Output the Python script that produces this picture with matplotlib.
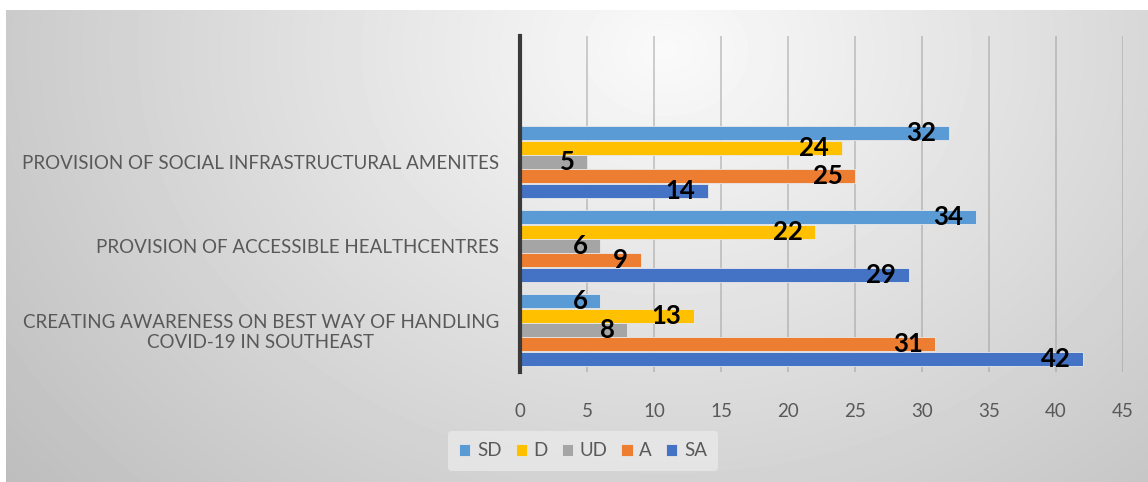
import numpy as np
import matplotlib.pyplot as plt

plt.rcParams['font.family'] = ['Lato', 'DejaVu Sans']

# categories from bottom to top
categories = [
    "CREATING AWARENESS ON BEST WAY OF HANDLING\nCOVID-19 IN SOUTHEAST",
    "PROVISION OF ACCESSIBLE HEALTHCENTRES",
    "PROVISION OF SOCIAL INFRASTRUCTURAL AMENITES",
]
series = ["SD", "D", "UD", "A", "SA"]
sd = [6, 34, 32]
d = [13, 22, 24]
ud = [8, 6, 5]
a = [31, 9, 25]
sa = [42, 29, 14]
colors = ["#5B9BD5", "#FFC000", "#A5A5A5", "#ED7D31", "#4472C4"]

fig = plt.figure(figsize=(11.48, 4.82), dpi=100, facecolor="white")

# grey radial backdrop
bg = fig.add_axes([6 / 1148, 0, 1 - 6 / 1148, 1 - 10 / 482])
bg.set_axis_off()
H, W = 472, 1142
yy, xx = np.mgrid[0:H, 0:W]
dist = np.sqrt(((xx - 660) / 1.0) ** 2 + ((yy - 40) / 0.8) ** 2)
shade = np.clip(0.98 - dist * 0.00028, 0, 1)
bg.imshow(shade, cmap="gray", vmin=0, vmax=1, aspect="auto", interpolation="bilinear")

ax = fig.add_axes([520 / 1148, 1 - 372 / 482, 603 / 1148, 336 / 482])
ax.set_facecolor("none")

y = np.arange(len(categories))
h = 0.172
values = [sd, d, ud, a, sa]
for i, (name, vals, col) in enumerate(zip(series, values, colors)):
    pos = y + (2 - i) * h
    ax.barh(pos, vals, height=h * 0.97, color=col, label=name,
            edgecolor="#E8E8E8", linewidth=0.6, zorder=3)
    for p, v in zip(pos, vals):
        ax.annotate(str(v), xy=(v, p), xytext=(-9, 0), textcoords="offset points",
                    ha="right", va="center", fontsize=18.5, fontweight="bold",
                    color="black", zorder=4)

ax.set_xlim(0, 45)
ax.set_ylim(-0.5, 3.5)
ax.set_xticks(np.arange(0, 46, 5))
ax.set_yticks(y)
ax.set_yticklabels(categories, multialignment="center")
ax.tick_params(axis="both", length=0, labelsize=13.5, colors="#595959")
ax.tick_params(axis="y", pad=15)
ax.tick_params(axis="x", pad=22)
ax.grid(axis="x", color="#999999", alpha=0.55, linewidth=1.2, zorder=0)
for s in ["top", "right", "bottom"]:
    ax.spines[s].set_visible(False)
ax.spines["left"].set_color("#3A3A3A")
ax.spines["left"].set_linewidth(3)
ax.spines["left"].set_zorder(5)

leg = fig.legend(loc="center", bbox_to_anchor=(583 / 1148, 1 - 451 / 482), ncol=5,
                 frameon=True, fontsize=13.5, handlelength=0.6, handleheight=0.6,
                 handletextpad=0.35, columnspacing=0.75, borderpad=0.6)
leg.get_frame().set_facecolor("#E9E9E9")
leg.get_frame().set_edgecolor("none")
leg.get_frame().set_alpha(0.8)
for t in leg.get_texts():
    t.set_color("#595959")

fig.savefig("out.png", dpi=100, facecolor="white")
